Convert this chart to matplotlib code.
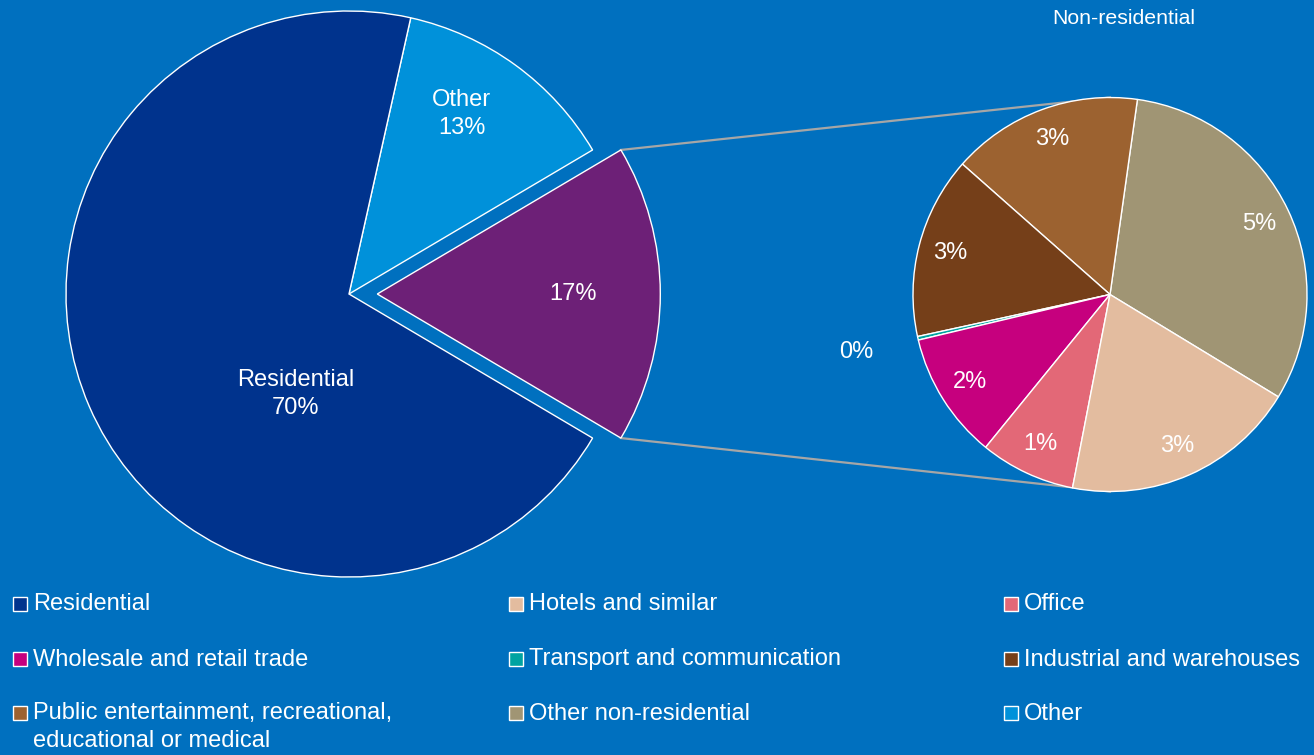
import numpy as np
import matplotlib.pyplot as plt
from matplotlib.patches import Rectangle

plt.rcParams['font.family'] = ['Liberation Sans', 'DejaVu Sans']

# Building stock by use (% of total)
main_names = ['Non-residential', 'Other', 'Residential']
main_values = [17, 13, 70]
main_colors = ['#6D2077', '#0091DA', '#00338D']

# Non-residential split (% of total), counter-clockwise from the lower right
sub_names = ['Other non-residential',
             'Public entertainment, recreational,\neducational or medical',
             'Industrial and warehouses', 'Transport and communication',
             'Wholesale and retail trade', 'Office', 'Hotels and similar']
sub_values = [5.35, 2.67, 2.54, 0.05, 1.77, 1.33, 3.29]
sub_colors = ['#A09574', '#9C6230', '#753F19', '#00A3A1',
              '#C6007E', '#E36877', '#E3BC9F']

legend_order = ['Residential', 'Hotels and similar', 'Office',
                'Wholesale and retail trade', 'Transport and communication',
                'Industrial and warehouses',
                'Public entertainment, recreational,\neducational or medical',
                'Other non-residential', 'Other']

BG = '#0070BF'
W, H = 1314, 755

fig = plt.figure(figsize=(W / 100, H / 100), dpi=100, facecolor=BG)
ax = fig.add_axes([0, 0, 1, 1])

edge = dict(edgecolor='white', linewidth=1)

# left pie, non-residential slice pulled out
main_center = (349, H - 294)
main_r = 283
# explode offsets are in data units, so scale by the radius
wedges, _ = ax.pie(main_values, colors=main_colors,
                   explode=[0.1 * main_r, 0, 0],
                   startangle=-main_values[0] / 100 * 180,
                   center=main_center, radius=main_r, wedgeprops=edge,
                   frame=True)

main_text = [f'{main_values[0]}%',
             f'{main_names[1]}\n{main_values[1]}%',
             f'{main_names[2]}\n{main_values[2]}%']
# (angle override, distance as fraction of radius)
main_pos = [(None, 0.69), (58, 0.75), (242, 0.40)]
for w, txt, (ang, dist) in zip(wedges, main_text, main_pos):
    if ang is None:
        ang = (w.theta1 + w.theta2) / 2
    a = np.deg2rad(ang)
    cx, cy = w.center
    ax.text(cx + dist * w.r * np.cos(a), cy + dist * w.r * np.sin(a), txt,
            ha='center', va='center', color='white', fontsize=17,
            linespacing=1.4)

# right pie with the non-residential breakdown
sub_center = (1110, H - 294.5)
sub_r = 197
sub_wedges, _ = ax.pie(sub_values, colors=sub_colors, startangle=-31.3,
                       center=sub_center, radius=sub_r, wedgeprops=edge,
                       frame=True)
for w, v in zip(sub_wedges, sub_values):
    a = np.deg2rad((w.theta1 + w.theta2) / 2)
    dist = 0.84 if v >= 0.5 else 1.32
    ax.text(sub_center[0] + dist * sub_r * np.cos(a),
            sub_center[1] + dist * sub_r * np.sin(a), f'{v:.0f}%',
            ha='center', va='center', color='white', fontsize=17)

# connector lines from the pulled-out slice to the breakdown pie
pw = wedges[0]
for th, sign in [(pw.theta2, 1), (pw.theta1, -1)]:
    t = np.deg2rad(th)
    x0 = pw.center[0] + pw.r * np.cos(t)
    y0 = pw.center[1] + pw.r * np.sin(t)
    ax.plot([x0, sub_center[0]], [y0, sub_center[1] + sign * sub_r],
            color='#A6A6A6', linewidth=1.6, zorder=0.5)

ax.text(1124, H - 18, 'Non-residential', ha='center', va='center',
        color='white', fontsize=15.3)

# legend, three columns
colour_of = dict(zip(main_names + sub_names, main_colors + sub_colors))
col_x = [13, 509, 1004]
row_y = [603.5, 658.5, 712.5]
for i, name in enumerate(legend_order):
    x = col_x[i % 3]
    yc = H - row_y[i // 3]
    ax.add_patch(Rectangle((x, yc - 7), 14, 14, facecolor=colour_of[name],
                           edgecolor='white', linewidth=1))
    ax.text(x + 20, yc + 10, name, ha='left', va='top', color='white',
            fontsize=17, linespacing=1.33)

ax.set_xlim(0, W)
ax.set_ylim(0, H)
ax.set_aspect('equal')
ax.axis('off')

fig.savefig('out.png', dpi=100, facecolor=BG)
